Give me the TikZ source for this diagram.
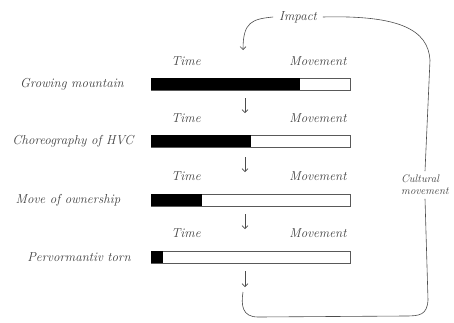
\documentclass[tikz,border=0pt]{standalone}
\usetikzlibrary{arrows.meta,calc}
\begin{document}
\begin{tikzpicture}[x=1pt,y=-1pt,
  hand/.style={font=\itshape\fontsize{13}{15}\selectfont, text=black!75, inner sep=1pt},
  barbox/.style={draw=black!65, line width=0.7pt, minimum width=199pt, minimum height=12pt, inner sep=0pt, anchor=west},
  arr/.style={draw=black!70, line width=0.6pt, -{Straight Barb[length=3pt,width=6pt]}},
  loopline/.style={draw=black!70, line width=0.6pt}]
\useasboundingbox (0,0) rectangle (454,322);
% labels
\node[hand] (lab1) at (72,84) {Growing mountain};
\node[hand] (lab2) at (73,141) {Choreography of HVC};
\node[hand] (lab3) at (68,200) {Move of ownership};
\node[hand] (lab4) at (79,257) {Pervormantiv torn};
% time / movement
\foreach \i/\y in {1/61,2/118,3/176,4/233}{
  \node[hand] (time\i) at (186,\y) {Time};
  \node[hand] (mov\i) at (318,\y) {Movement};
}
% bars
\node[barbox] (bar1) at (151,84) {};
\node[barbox] (bar2) at (151,141) {};
\node[barbox] (bar3) at (151,200) {};
\node[barbox] (bar4) at (151,257) {};
\fill[black] (bar1.north west) rectangle ($(bar1.south west)+(149,0)$);
\fill[black] (bar2.north west) rectangle ($(bar2.south west)+(100,0)$);
\fill[black] (bar3.north west) rectangle ($(bar3.south west)+(51,0)$);
\fill[black] (bar4.north west) rectangle ($(bar4.south west)+(12,0)$);
% small arrows
\coordinate (a1s) at (245,98);  \coordinate (a1e) at (245,113);
\coordinate (a2s) at (245,157); \coordinate (a2e) at (245,172);
\coordinate (a3s) at (245,214); \coordinate (a3e) at (245,229);
\coordinate (a4s) at (245,271); \coordinate (a4e) at (245,287);
\draw[arr] (a1s) -- (a1e);
\draw[arr] (a2s) -- (a2e);
\draw[arr] (a3s) -- (a3e);
\draw[arr] (a4s) -- (a4e);
% impact
\node[hand, outer sep=5pt] (impact) at (298,17) {Impact};
\coordinate (imparr) at (243,50);
\draw[arr] (impact.west) .. controls (252,19) and (243,22) .. (imparr);
% cultural movement
\node[hand, font=\itshape\fontsize{11}{12}\selectfont, align=left, outer sep=3pt] (cult) at (425,185) {Cultural\\movement};
\coordinate (loopend) at (243,292);
\draw[loopline] (impact.east) .. controls (400,15) and (428,30) .. (430,60) -- (cult.north);
\draw[loopline] (cult.south) -- (428,300) .. controls (427,315) and (420,316) .. (405,316)
  -- (258,317) .. controls (242,317) and (241,305) .. (loopend);
\end{tikzpicture}
\end{document}
